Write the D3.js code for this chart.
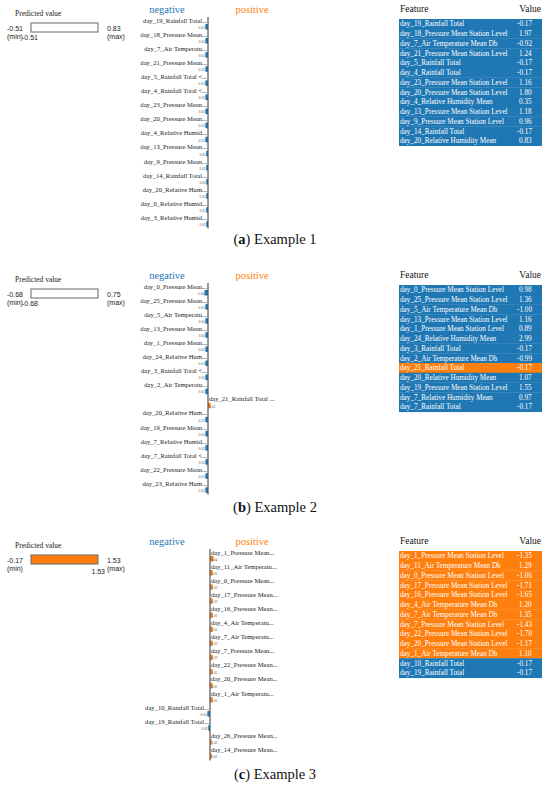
<!DOCTYPE html>
<html>
<head>
<meta charset="utf-8">
<script src="https://cdn.jsdelivr.net/npm/d3@7"></script>
<style>
  body { margin: 0; background: #fff; }
  svg { display: block; }
</style>
</head>
<body>
<svg id="chart" width="550" height="791"></svg>
<script>
// ---- data ----
var captions = ["a", "b", "c"];
var captionTitles = ["Example 1", "Example 2", "Example 3"];

var predMin = [-0.51, -0.68, -0.17];
var predMax = [0.83, 0.75, 1.53];
var predValue = [-0.51, -0.68, 1.53];

var labels1 = ["day_19_Rainfall Total...", "day_18_Pressure Mean...", "day_7_Air Temperatu...", "day_21_Pressure Mean...",
  "day_5_Rainfall Total <...", "day_4_Rainfall Total <...", "day_23_Pressure Mean...", "day_20_Pressure Mean...",
  "day_4_Relative Humid...", "day_13_Pressure Mean...", "day_9_Pressure Mean...", "day_14_Rainfall Total...",
  "day_20_Relative Hum...", "day_0_Relative Humid...", "day_3_Relative Humid..."];
var weights1 = [-0.03, -0.03, -0.03, -0.03, -0.03, -0.03, -0.03, -0.03, -0.03, -0.02, -0.02, -0.02, -0.02, -0.02, -0.02];

var labels2 = ["day_0_Pressure Mean...", "day_25_Pressure Mean...", "day_5_Air Temperatu...", "day_13_Pressure Mean...",
  "day_1_Pressure Mean...", "day_24_Relative Hum...", "day_3_Rainfall Total <...", "day_2_Air Temperatu...",
  "day_21_Rainfall Total ...", "day_20_Relative Hum...", "day_19_Pressure Mean...", "day_7_Relative Humid...",
  "day_7_Rainfall Total <...", "day_22_Pressure Mean...", "day_23_Relative Hum..."];
var weights2 = [-0.04, -0.03, -0.03, -0.03, -0.03, -0.03, -0.03, -0.03, 0.03, -0.03, -0.03, -0.03, -0.03, -0.03, -0.03];

var labels3 = ["day_1_Pressure Mean...", "day_11_Air Temperatu...", "day_0_Pressure Mean...", "day_17_Pressure Mean...",
  "day_16_Pressure Mean...", "day_4_Air Temperatu...", "day_7_Air Temperatu...", "day_7_Pressure Mean...",
  "day_22_Pressure Mean...", "day_20_Pressure Mean...", "day_1_Air Temperatu...", "day_10_Rainfall Total...",
  "day_19_Rainfall Total...", "day_26_Pressure Mean...", "day_14_Pressure Mean..."];
var weights3 = [0.04, 0.03, 0.03, 0.03, 0.03, 0.03, 0.03, 0.03, 0.03, 0.03, 0.03, -0.03, -0.02, 0.02, 0.02];

var tableFeat1 = ["day_19_Rainfall Total", "day_18_Pressure Mean Station Level", "day_7_Air Temperature Mean Db",
  "day_21_Pressure Mean Station Level", "day_5_Rainfall Total", "day_4_Rainfall Total",
  "day_23_Pressure Mean Station Level", "day_20_Pressure Mean Station Level", "day_4_Relative Humidity Mean",
  "day_13_Pressure Mean Station Level", "day_9_Pressure Mean Station Level", "day_14_Rainfall Total",
  "day_20_Relative Humidity Mean"];
var tableVal1 = ["-0.17", "1.97", "-0.92", "1.24", "-0.17", "-0.17", "1.16", "1.80", "0.35", "1.18", "0.96", "-0.17", "0.83"];

var tableFeat2 = ["day_0_Pressure Mean Station Level", "day_25_Pressure Mean Station Level", "day_5_Air Temperature Mean Db",
  "day_13_Pressure Mean Station Level", "day_1_Pressure Mean Station Level", "day_24_Relative Humidity Mean",
  "day_3_Rainfall Total", "day_2_Air Temperature Mean Db", "day_21_Rainfall Total", "day_20_Relative Humidity Mean",
  "day_19_Pressure Mean Station Level", "day_7_Relative Humidity Mean", "day_7_Rainfall Total"];
var tableVal2 = ["0.98", "1.36", "-1.00", "1.16", "0.89", "2.99", "-0.17", "-0.99", "-0.17", "1.07", "1.55", "0.97", "-0.17"];

var tableFeat3 = ["day_1_Pressure Mean Station Level", "day_11_Air Temperature Mean Db", "day_0_Pressure Mean Station Level",
  "day_17_Pressure Mean Station Level", "day_16_Pressure Mean Station Level", "day_4_Air Temperature Mean Db",
  "day_7_Air Temperature Mean Db", "day_7_Pressure Mean Station Level", "day_22_Pressure Mean Station Level",
  "day_20_Pressure Mean Station Level", "day_1_Air Temperature Mean Db", "day_10_Rainfall Total", "day_19_Rainfall Total"];
var tableVal3 = ["-1.35", "1.29", "-1.06", "-1.71", "-1.65", "1.20", "1.35", "-1.43", "-1.70", "-1.17", "1.10", "-0.17", "-0.17"];

var allLabels = [labels1, labels2, labels3];
var allWeights = [weights1, weights2, weights3];
var allTableFeat = [tableFeat1, tableFeat2, tableFeat3];
var allTableVal = [tableVal1, tableVal2, tableVal3];

var BLUE = "#1f77b4", ORANGE = "#ff7f0e";
var serif = "'Liberation Serif', 'Times New Roman', serif";
var sans = "'Liberation Sans', Arial, sans-serif";

var svg = d3.select("#chart");
var offsets = [0, 266, 532];
var captionY = [244, 512, 779];

for (let k = 0; k < 3; k++) {
    var g = svg.append("g").attr("transform", "translate(0," + offsets[k] + ")");

    // --- predicted value panel ---
    g.append("text").text("Predicted value")
        .attr("x", 15).attr("y", 16)
        .attr("font-family", serif).attr("font-size", "7.5px").attr("fill", "#222");

    var px = d3.scaleLinear().domain([predMin[k], predMax[k]]).range([31, 98]);
    g.append("rect")
        .attr("x", px(predMin[k])).attr("y", 23)
        .attr("width", px(predValue[k]) - px(predMin[k])).attr("height", 9)
        .attr("fill", ORANGE);
    g.append("rect")
        .attr("x", 31).attr("y", 23).attr("width", 67).attr("height", 9)
        .attr("fill", "none").attr("stroke", "#666").attr("stroke-width", 1);

    g.append("text").text(predMin[k].toFixed(2)).attr("x", 7).attr("y", 31)
        .attr("font-family", sans).attr("font-size", "7px").attr("fill", "#222");
    g.append("text").text("(min)").attr("x", 7).attr("y", 39)
        .attr("font-family", sans).attr("font-size", "7px").attr("fill", "#222");
    g.append("text").text(predMax[k].toFixed(2)).attr("x", 107).attr("y", 31)
        .attr("font-family", sans).attr("font-size", "7px").attr("fill", "#222");
    g.append("text").text("(max)").attr("x", 107).attr("y", 39)
        .attr("font-family", sans).attr("font-size", "7px").attr("fill", "#222");
    var vx = px(predValue[k]);
    var atMax = predValue[k] === predMax[k];
    g.append("text").text(predValue[k].toFixed(2))
        .attr("x", atMax ? vx + 7 : vx - 9)
        .attr("y", atMax ? 42 : 40)
        .attr("text-anchor", atMax ? "end" : "start")
        .attr("font-family", sans).attr("font-size", "7px").attr("fill", "#222");

    // --- explanation bars ---
    var labels = allLabels[k], weights = allWeights[k];
    var axisX = k === 2 ? 210 : 208;
    var rowH = 14.1, top0 = 17;

    g.append("text").text("negative").attr("x", 167).attr("y", 13)
        .attr("text-anchor", "middle")
        .attr("font-family", serif).attr("font-size", "10.5px").attr("fill", BLUE);
    g.append("text").text("positive").attr("x", 252).attr("y", 13)
        .attr("text-anchor", "middle")
        .attr("font-family", serif).attr("font-size", "10.5px").attr("fill", ORANGE);

    var yRow = d3.scaleBand().domain(d3.range(labels.length))
        .range([top0, top0 + rowH * labels.length]);
    var wx = d3.scaleLinear().domain([0, 0.04]).range([0, 3.5]);

    var rows = g.selectAll(null).data(labels.map((l, i) => [l, weights[i], i])).enter().append("g")
        .attr("transform", d => "translate(0," + yRow(d[2]) + ")");

    rows.append("text").text(d => d[0])
        .attr("x", d => d[1] < 0 ? axisX - 1 : axisX + 1)
        .attr("y", 5.5)
        .attr("text-anchor", d => d[1] < 0 ? "end" : "start")
        .attr("font-family", serif).attr("font-size", "6.6px").attr("fill", "#222");

    rows.append("rect")
        .attr("x", d => d[1] < 0 ? axisX - wx(Math.abs(d[1])) : axisX)
        .attr("y", 7).attr("height", 5.5)
        .attr("width", d => wx(Math.abs(d[1])))
        .attr("fill", d => d[1] < 0 ? BLUE : ORANGE);

    rows.append("text").text(d => Math.abs(d[1]).toFixed(2))
        .attr("x", d => d[1] < 0 ? axisX - wx(Math.abs(d[1])) - 0.5 : axisX + 1)
        .attr("y", 11.8)
        .attr("text-anchor", d => d[1] < 0 ? "end" : "start")
        .attr("font-family", serif).attr("font-size", "3.6px").attr("fill", "#555");

    g.append("line")
        .attr("x1", axisX).attr("x2", axisX)
        .attr("y1", top0).attr("y2", top0 + rowH * labels.length)
        .attr("stroke", "#555").attr("stroke-width", 1.2);

    // --- feature / value table ---
    var feats = allTableFeat[k], vals = allTableVal[k];
    var tx0 = 399, tx1 = 542, rh = 9.75, ty0 = 19, valX = 517;
    g.append("text").text("Feature").attr("x", 400).attr("y", 12)
        .attr("font-family", serif).attr("font-size", "9.5px").attr("fill", "#111");
    g.append("text").text("Value").attr("x", 541).attr("y", 12).attr("text-anchor", "end")
        .attr("font-family", serif).attr("font-size", "9.5px").attr("fill", "#111");

    var ty = d3.scaleBand().domain(d3.range(feats.length)).range([ty0, ty0 + rh * feats.length]);
    var trows = g.selectAll(null).data(feats.map((f, i) => [f, vals[i], weights[i], i])).enter().append("g")
        .attr("transform", d => "translate(0," + ty(d[3]) + ")");
    trows.append("rect").attr("x", tx0).attr("y", 0)
        .attr("width", tx1 - tx0).attr("height", rh + 0.3)
        .attr("fill", d => d[2] < 0 ? BLUE : ORANGE);
    trows.append("text").text(d => d[0]).attr("x", tx0 + 1).attr("y", 7.3)
        .attr("font-family", serif).attr("font-size", "7.2px").attr("fill", "#fff");
    trows.append("text").text(d => d[1]).attr("x", d => d[1][0] === "-" ? valX : valX + 2).attr("y", 7.3)
        .attr("font-family", serif).attr("font-size", "7.2px").attr("fill", "#fff");

    // --- caption ---
    var cap = svg.append("text").attr("x", 275).attr("y", captionY[k])
        .attr("text-anchor", "middle")
        .attr("font-family", serif).attr("font-size", "14.5px").attr("fill", "#111");
    cap.append("tspan").text("(");
    cap.append("tspan").text(captions[k]).attr("font-weight", "bold");
    cap.append("tspan").text(") " + captionTitles[k]);
}
</script>
</body>
</html>
